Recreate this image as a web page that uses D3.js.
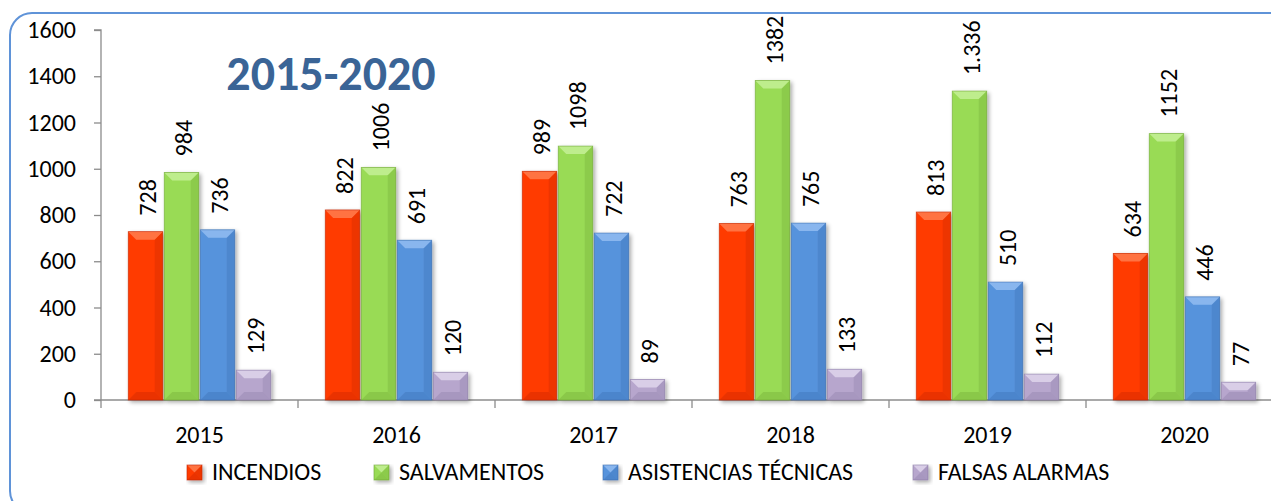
<!DOCTYPE html>
<html><head><meta charset="utf-8">
<script src="https://cdn.jsdelivr.net/npm/d3@7"></script>
<style>
html,body{margin:0;padding:0;background:#fff;}
svg{display:block;font-family:Carlito,Lato,"Open Sans",sans-serif;}
</style></head>
<body>
<svg id="chart" width="1271" height="501"></svg>
<script>
const years = ["2015","2016","2017","2018","2019","2020"];
const seriesNames = ["INCENDIOS","SALVAMENTOS","ASISTENCIAS TÉCNICAS","FALSAS ALARMAS"];
const incendios = [728, 822, 989, 763, 813, 634];
const salvamentos = [984, 1006, 1098, 1382, 1336, 1152];
const asistencias = [736, 691, 722, 765, 510, 446];
const falsasAlarmas = [129, 120, 89, 133, 112, 77];
const salvamentosLabels = ["984","1006","1098","1382","1.336","1152"];
const yTicks = [0,200,400,600,800,1000,1200,1400,1600];
const colors = ["#ff3a00","#99db55","#5793dc","#b7a6cd"];
const darkColors = ["#c22800","#6fa535","#3a6eaf","#8a7aa5"];
const lightColors = ["#ff7a4a","#c2ee94","#8fbaf0","#ddd3ea"];
const title = "2015-2020";

const allSeries = [incendios, salvamentos, asistencias, falsasAlarmas];
const labelFor = (si, yi) => si === 1 ? salvamentosLabels[yi] : String(allSeries[si][yi]);
const FS = 24;

const svg = d3.select("#chart");
const defs = svg.append("defs");
const f = defs.append("filter").attr("id","shadow").attr("x","-20%").attr("y","-20%").attr("width","150%").attr("height","150%");
f.append("feGaussianBlur").attr("in","SourceAlpha").attr("stdDeviation",2);
f.append("feOffset").attr("dx",2).attr("dy",2).attr("result","ob");
f.append("feComponentTransfer").append("feFuncA").attr("type","linear").attr("slope",0.35);
const fm = f.append("feMerge"); fm.append("feMergeNode"); fm.append("feMergeNode").attr("in","SourceGraphic");

// frame
svg.append("rect").attr("x",10).attr("y",13).attr("width",1290).attr("height",500)
  .attr("rx",22).attr("fill","none").attr("stroke","#5f93d8").attr("stroke-width",2);

const x0 = 101, x1 = 1283, yTop = 30, yBot = 400;
const x = d3.scaleBand().domain(years).range([x0, x1]).paddingInner(0).paddingOuter(0);
const xs = d3.scaleBand().domain(d3.range(4)).range([0, x.bandwidth()]).paddingInner(0.042).paddingOuter(0.757);
const y = d3.scaleLinear().domain([0,1600]).range([yBot, yTop]);

// y axis
const yAxis = svg.append("g").attr("transform",`translate(${x0},0)`)
  .call(d3.axisLeft(y).tickValues(yTicks).tickFormat(d3.format("d")).tickSize(7).tickPadding(18));
yAxis.select(".domain").attr("stroke","#8c8c8c").attr("stroke-width",1.3).attr("d",`M-7,${yTop}H0V${yBot}`);
yAxis.selectAll(".tick line").attr("stroke","#8c8c8c").attr("stroke-width",1.3);
yAxis.selectAll(".tick text").attr("font-size",FS).attr("fill","#000").attr("font-family","Carlito,Lato,sans-serif");

// x axis: domain line and boundary ticks
svg.append("line").attr("x1",x0-7).attr("x2",x1).attr("y1",yBot).attr("y2",yBot)
  .attr("stroke","#8c8c8c").attr("stroke-width",1.3);
svg.selectAll(".xb").data(years.concat(["end"])).enter().append("line")
  .attr("x1",(d,i)=>x0 + i*x.bandwidth()).attr("x2",(d,i)=>x0 + i*x.bandwidth())
  .attr("y1",yBot).attr("y2",yBot+8).attr("stroke","#8c8c8c").attr("stroke-width",1.3);
svg.selectAll(".xl").data(years).enter().append("text")
  .attr("x",d=>x(d)+x.bandwidth()/2).attr("y",yBot+43)
  .attr("text-anchor","middle").attr("font-size",FS).text(d=>d);

// bars with bevel
function bevelBar(g, bx, by, w, h, si){
  const b = Math.min(8, h/2, w/2);
  const grp = g.append("g").attr("filter","url(#shadow)");
  grp.append("rect").attr("x",bx).attr("y",by).attr("width",w).attr("height",h).attr("fill",colors[si]);
  grp.append("path").attr("d",`M${bx},${by}H${bx+w}L${bx+w-b},${by+b}H${bx+b}Z`).attr("fill",lightColors[si]).attr("opacity",0.9);
  grp.append("path").attr("d",`M${bx+w},${by}L${bx+w-b},${by+b}V${by+h-b}L${bx+w},${by+h}Z`).attr("fill",darkColors[si]).attr("opacity",0.3);
  grp.append("path").attr("d",`M${bx},${by+h}H${bx+w}L${bx+w-b},${by+h-b}H${bx+b}Z`).attr("fill",darkColors[si]).attr("opacity",0.35);
  grp.append("rect").attr("x",bx).attr("y",by).attr("width",w).attr("height",h)
    .attr("fill","none").attr("stroke",darkColors[si]).attr("stroke-width",0.8).attr("opacity",0.7);
}
const barsG = svg.append("g");
years.forEach((yr, yi) => {
  allSeries.forEach((s, si) => {
    const bx = x(yr) + xs(si), w = xs.bandwidth();
    const by = y(s[yi]), h = yBot - by;
    bevelBar(barsG, bx, by, w, h, si);
  });
});

// value labels
years.forEach((yr, yi) => {
  allSeries.forEach((s, si) => {
    const cx = x(yr) + xs(si) + xs.bandwidth()/2 + 2;
    const ty = y(s[yi]) - 16;
    svg.append("text")
      .attr("transform",`translate(${cx},${ty}) rotate(-90)`)
      .attr("text-anchor","start").attr("dominant-baseline","central")
      .attr("font-size",FS).attr("fill","#000").text(labelFor(si, yi));
  });
});

// title
svg.append("text").attr("x",331).attr("y",90).attr("text-anchor","middle")
  .attr("font-size",48).attr("font-weight","bold").attr("fill","#3a6496").text(title);

// legend
const legendX = [187, 374, 603, 913];
const lg = svg.append("g");
seriesNames.forEach((n, i) => {
  const gx = legendX[i];
  const g = lg.append("g");
  bevelBar(g, gx, 465, 15, 15, i);
  g.append("text").attr("x", gx + 25).attr("y", 480).attr("font-size",FS).attr("fill","#000").text(n);
});
</script>
</body></html>
